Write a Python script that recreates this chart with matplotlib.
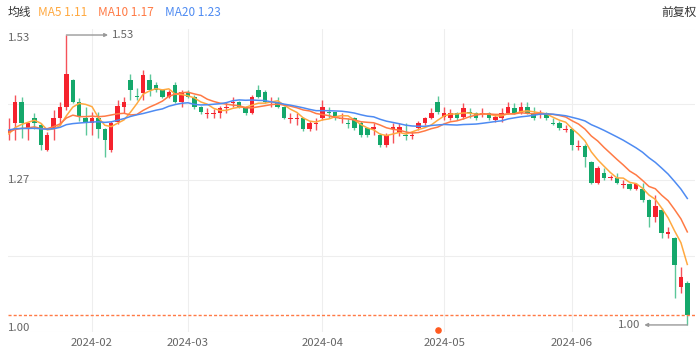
import numpy as np
import pandas as pd
import matplotlib
matplotlib.use("Agg")
import matplotlib.pyplot as plt

plt.rcParams['font.family'] = ['Noto Sans CJK SC', 'DejaVu Sans']

# 日K数据 (前复权), 2024-01-15 ~ 2024-06-28, 估计值
open_ = [1.350, 1.369, 1.408, 1.359, 1.378, 1.365, 1.320, 1.359, 1.378, 1.399,
         1.448, 1.408, 1.378, 1.369, 1.378, 1.359, 1.320, 1.371, 1.398, 1.448,
         1.419, 1.424, 1.448, 1.439, 1.429, 1.417, 1.439, 1.408, 1.426, 1.417,
         1.398, 1.386, 1.386, 1.387, 1.397, 1.406, 1.408, 1.398, 1.387, 1.429,
         1.426, 1.407, 1.408, 1.398, 1.377, 1.377, 1.378, 1.358, 1.368, 1.378,
         1.390, 1.389, 1.377, 1.370, 1.378, 1.369, 1.360, 1.359, 1.347, 1.329,
         1.359, 1.351, 1.348, 1.346, 1.360, 1.369, 1.378, 1.408, 1.380, 1.378,
         1.387, 1.380, 1.389, 1.387, 1.386, 1.387, 1.375, 1.378, 1.387, 1.397,
         1.387, 1.398, 1.387, 1.386, 1.387, 1.370, 1.369, 1.357, 1.358, 1.326,
         1.327, 1.298, 1.259, 1.278, 1.268, 1.269, 1.255, 1.258, 1.248, 1.248,
         1.228, 1.197, 1.210, 1.167, 1.159, 1.069, 1.077]
high = [1.378, 1.420, 1.417, 1.370, 1.388, 1.370, 1.353, 1.393, 1.408, 1.530,
        1.450, 1.415, 1.399, 1.390, 1.390, 1.360, 1.372, 1.411, 1.417, 1.459,
        1.433, 1.466, 1.459, 1.444, 1.432, 1.430, 1.444, 1.430, 1.430, 1.420,
        1.400, 1.397, 1.395, 1.400, 1.408, 1.417, 1.410, 1.400, 1.420, 1.439,
        1.430, 1.417, 1.417, 1.400, 1.387, 1.387, 1.380, 1.372, 1.378, 1.411,
        1.398, 1.390, 1.387, 1.378, 1.380, 1.372, 1.362, 1.369, 1.350, 1.350,
        1.369, 1.370, 1.369, 1.355, 1.372, 1.380, 1.397, 1.418, 1.398, 1.395,
        1.390, 1.405, 1.397, 1.390, 1.397, 1.390, 1.385, 1.397, 1.408, 1.405,
        1.408, 1.408, 1.398, 1.393, 1.390, 1.378, 1.372, 1.365, 1.360, 1.338,
        1.330, 1.300, 1.290, 1.287, 1.274, 1.278, 1.265, 1.260, 1.260, 1.259,
        1.230, 1.237, 1.213, 1.179, 1.160, 1.106, 1.080]
low = [1.338, 1.338, 1.341, 1.338, 1.359, 1.320, 1.318, 1.338, 1.365, 1.393,
       1.405, 1.372, 1.347, 1.347, 1.341, 1.307, 1.316, 1.368, 1.387, 1.411,
       1.411, 1.411, 1.418, 1.425, 1.414, 1.414, 1.405, 1.398, 1.414, 1.395,
       1.386, 1.378, 1.378, 1.378, 1.387, 1.398, 1.396, 1.384, 1.385, 1.414,
       1.405, 1.398, 1.396, 1.376, 1.369, 1.365, 1.355, 1.355, 1.356, 1.375,
       1.378, 1.375, 1.369, 1.360, 1.357, 1.344, 1.344, 1.347, 1.326, 1.326,
       1.333, 1.345, 1.338, 1.340, 1.357, 1.366, 1.376, 1.386, 1.375, 1.375,
       1.375, 1.377, 1.378, 1.375, 1.380, 1.375, 1.371, 1.371, 1.385, 1.385,
       1.385, 1.385, 1.375, 1.378, 1.375, 1.365, 1.357, 1.353, 1.320, 1.320,
       1.289, 1.257, 1.257, 1.265, 1.265, 1.257, 1.250, 1.246, 1.246, 1.225,
       1.179, 1.188, 1.159, 1.159, 1.049, 1.058, 1.000]
close = [1.356, 1.408, 1.369, 1.369, 1.369, 1.329, 1.347, 1.378, 1.399, 1.459,
         1.408, 1.381, 1.369, 1.378, 1.359, 1.338, 1.369, 1.400, 1.408, 1.429,
         1.416, 1.457, 1.429, 1.429, 1.417, 1.426, 1.408, 1.426, 1.417, 1.398,
         1.389, 1.388, 1.388, 1.397, 1.399, 1.408, 1.398, 1.387, 1.417, 1.417,
         1.408, 1.409, 1.398, 1.378, 1.379, 1.379, 1.358, 1.369, 1.370, 1.398,
         1.388, 1.378, 1.379, 1.368, 1.360, 1.347, 1.347, 1.361, 1.329, 1.347,
         1.361, 1.362, 1.346, 1.348, 1.369, 1.378, 1.387, 1.389, 1.387, 1.387,
         1.378, 1.397, 1.387, 1.378, 1.388, 1.378, 1.380, 1.387, 1.398, 1.387,
         1.398, 1.387, 1.378, 1.388, 1.378, 1.368, 1.360, 1.359, 1.329, 1.328,
         1.307, 1.259, 1.287, 1.269, 1.270, 1.259, 1.257, 1.248, 1.258, 1.228,
         1.197, 1.217, 1.168, 1.169, 1.110, 1.088, 1.018]
# 窗口之前的收盘价, 只用来算均线
prev_close = [1.36, 1.36, 1.37, 1.36, 1.35, 1.36, 1.36, 1.35, 1.36, 1.37,
              1.36, 1.35, 1.36, 1.35, 1.36, 1.35, 1.34, 1.35, 1.35]

month_idx = [13, 28, 49, 68, 88]
month_labels = ['2024-02', '2024-03', '2024-04', '2024-05', '2024-06']
price_labels = [1.53, 1.27, 1.00]
event_idx = [67]

#%%
n = len(close)
idx = np.arange(n)
o = np.array(open_); h = np.array(high); l = np.array(low); c = np.array(close)

allc = pd.Series(prev_close + close)
ma5 = allc.rolling(5).mean().values[-n:]
ma10 = allc.rolling(10).mean().values[-n:]
ma20 = allc.rolling(20).mean().values[-n:]

RED = '#F5222D'
GREEN = '#14A86B'
up = c >= o
body_col = np.where(up, RED, GREEN)
wick_col = np.where(up, '#F5525A', '#5CC79A')

fig = plt.figure(figsize=(7, 3.57), dpi=100)
ax = fig.add_axes([8/700, 1-332/357, 687/700, 303.5/357])
ax.set_xlim(-0.125, 107.2)
ax.set_ylim(0.9871, 1.5419)

for s in ax.spines.values():
    s.set_visible(False)
ax.set_yticks(np.linspace(0.9871, 1.5419, 5))
ax.set_yticklabels([])
ax.set_xticks(month_idx)
ax.set_xticklabels(month_labels, color='#666666', fontsize=8.2)
ax.tick_params(length=0, pad=4)
ax.grid(True, color='#EEEEEE', lw=0.8)
ax.set_axisbelow(True)

ax.vlines(idx, l, h, colors=wick_col, lw=1, zorder=2)
ax.bar(idx, np.maximum(np.abs(c-o), 0.0015), bottom=np.minimum(o, c),
       width=0.7, color=body_col, zorder=3)

ax.plot(idx, ma5, color='#FFA940', lw=1.1, zorder=4)
ax.plot(idx, ma10, color='#FF7A45', lw=1.1, zorder=4)
ax.plot(idx, ma20, color='#4E8BF2', lw=1.1, zorder=4)

ax.axhline(c[-1], color='#FF7A45', lw=1, ls=(0, (2.2, 1.5)), zorder=5)

# 最高/最低标注
imax = int(np.argmax(h)); imin = int(np.argmin(l))
ax.annotate('%.2f' % h[imax], xy=(imax, h[imax]), xytext=(33, 0),
            textcoords='offset points', va='center', ha='left',
            color='#666666', fontsize=8.2,
            arrowprops=dict(arrowstyle='<|-', color='#999999', lw=1,
                            mutation_scale=5, shrinkA=1, shrinkB=0))
ax.annotate('%.2f' % l[imin], xy=(imin, l[imin]), xytext=(-34, 0),
            textcoords='offset points', va='center', ha='right',
            color='#666666', fontsize=8.2,
            arrowprops=dict(arrowstyle='<|-', color='#999999', lw=1,
                            mutation_scale=5, shrinkA=1, shrinkB=0))

for p in price_labels:
    ax.annotate('%.2f' % p, xy=(0, p), xycoords=('axes fraction', 'data'),
                xytext=(0, -2), textcoords='offset points',
                va='center', ha='left', color='#666666', fontsize=8.2)

ax.scatter(event_idx, [0.008]*len(event_idx), transform=ax.get_xaxis_transform(),
           s=14, color='#FF5A1F', zorder=6, clip_on=False)

# 顶部图例
fig.text(8/700, 1-12/357, '均线', color='#333333', fontsize=8.5, va='center')
fig.text(38/700, 1-12/357, 'MA5 %.2f' % ma5[-1], color='#FFA940', fontsize=8.5, va='center')
fig.text(98/700, 1-12/357, 'MA10 %.2f' % ma10[-1], color='#FF7A45', fontsize=8.5, va='center')
fig.text(165/700, 1-12/357, 'MA20 %.2f' % ma20[-1], color='#4E8BF2', fontsize=8.5, va='center')
fig.text(697/700, 1-12/357, '前复权', color='#333333', fontsize=8.5, va='center', ha='right')

fig.savefig('out.png', dpi=100)
plt.close()
